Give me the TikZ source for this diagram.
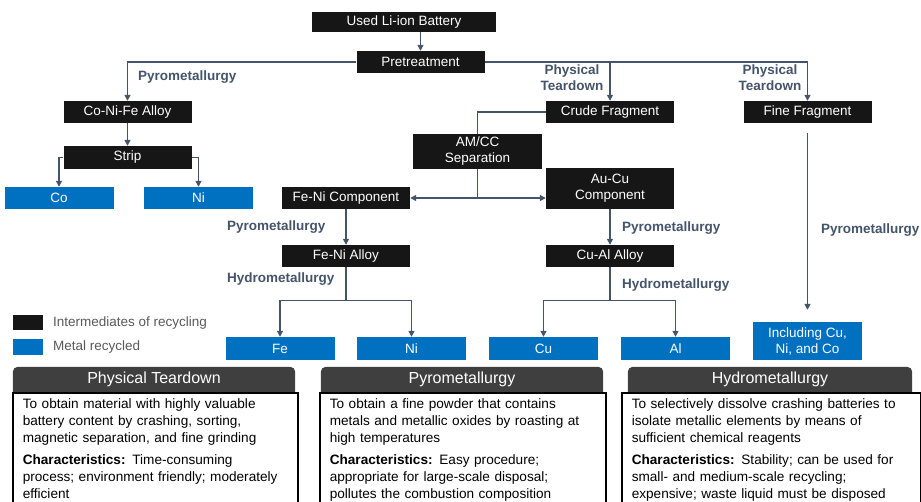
\documentclass[tikz,border=0pt]{standalone}
\usepackage{fontspec}
\setmainfont{Liberation Sans}
\usepackage{xcolor}
\usetikzlibrary{arrows.meta,backgrounds}
\definecolor{inter}{HTML}{161616}
\definecolor{metal}{HTML}{0070C0}
\definecolor{flow}{HTML}{44546A}
\definecolor{head}{HTML}{3F3F3F}
\definecolor{keytext}{HTML}{595959}
\newcommand{\boxfont}{\fontsize{13.5}{16}\selectfont}

\begin{document}
\begin{tikzpicture}[x=1pt,y=-1pt,
    im/.style={fill=inter,text=white,minimum width=128pt,minimum height=22pt,inner sep=0pt,align=center,font=\boxfont},
    mt/.style={fill=metal,text=white,minimum width=109pt,minimum height=23pt,inner sep=0pt,align=center,font=\boxfont},
    lb/.style={text=flow,inner sep=0pt,align=center,font=\boxfont\bfseries},
    fl/.style={draw=flow,line width=1.4pt,-{Triangle[length=6pt,width=6pt]}},
    ln/.style={draw=flow,line width=1.4pt},
    hd/.style={text=white,minimum width=282pt,minimum height=25pt,inner sep=0pt,font=\fontsize{16}{18}\selectfont},
    bd/.style={draw=black,line width=1.6pt,fill=white,anchor=north west,align=left,inner xsep=10pt,inner ysep=6pt,font=\fontsize{13.6}{16.7}\selectfont}
  ]
  \clip (0,0) rectangle (921,501);

  % intermediates
  \node[im,minimum width=184pt,minimum height=20pt] (bat) at (404,22) {Used Li-ion Battery};
  \node[im] (pre) at (420.5,62) {Pretreatment};
  \node[im] (cnf) at (127.5,112) {Co-Ni-Fe Alloy};
  \node[im,minimum height=23pt] (strip) at (127.5,157.5) {Strip};
  \node[im] (crude) at (610,112) {Crude Fragment};
  \node[im] (fine) at (807.5,112) {Fine Fragment};
  \node[im,minimum width=129pt,minimum height=35pt] (amcc) at (477.5,151.5) {AM/CC\\Separation};
  \node[im,minimum height=41pt] (aucu) at (610,188.5) {Au-Cu\\Component};
  \node[im] (feni) at (346,198) {Fe-Ni Component};
  \node[im] (fenia) at (346,256) {Fe-Ni Alloy};
  \node[im] (cual) at (610,256) {Cu-Al Alloy};

  % metals
  \node[mt,minimum height=22pt] (co) at (59,198) {Co};
  \node[mt,minimum height=22pt] (ni1) at (198.5,198) {Ni};
  \node[mt] (fe) at (280,348.5) {Fe};
  \node[mt] (ni2) at (411.5,348.5) {Ni};
  \node[mt] (cu) at (543.5,348.5) {Cu};
  \node[mt] (al) at (675.5,348.5) {Al};
  \node[mt,minimum height=38pt] (incl) at (807.5,341) {Including Cu,\\Ni, and Co};

  % routes
  \draw[fl] (pre|-bat.south) -- (pre.north);
  \draw[fl] (pre.west) -| (cnf.north);
  \draw[fl] (pre.east) -| (crude.north);
  \draw[fl] (pre.east) -| (fine.north);
  \draw[fl] (cnf) -- (strip);
  \draw[fl] (strip.west) -| (co.north);
  \draw[fl] (strip.east) -| (ni1.north);
  \coordinate (sep) at (amcc|-feni);
  \begin{scope}[on background layer]
    \draw[ln] (crude.west) -| (sep);
  \end{scope}
  \draw[fl] (sep) -- (feni.east);
  \draw[fl] (sep) -- (aucu.west|-sep);
  \draw[fl] (feni) -- (fenia);
  \draw[fl] (fenia.south) -- ++(0,33) -| (fe.north);
  \draw[fl] (fenia.south) -- ++(0,33) -| (ni2.north);
  \draw[fl] (aucu) -- (cual);
  \draw[fl] (cual.south) -- ++(0,33) -| (cu.north);
  \draw[fl] (cual.south) -- ++(0,33) -| (al.north);
  \draw[fl,shorten <=10pt,shorten >=12pt] (fine) -- (incl);

  % route labels
  \node[lb,anchor=west] (py1) at (138,77) {Pyrometallurgy};
  \node[lb] (pt1) at (572,78) {Physical\\Teardown};
  \node[lb] (pt2) at (770,78) {Physical\\Teardown};
  \node[lb,anchor=west] (py2) at (227,227) {Pyrometallurgy};
  \node[lb,anchor=west] (hy1) at (227,279) {Hydrometallurgy};
  \node[lb,anchor=west] (py3) at (622,228) {Pyrometallurgy};
  \node[lb,anchor=west] (hy2) at (622,285) {Hydrometallurgy};
  \node[lb,anchor=west] (py4) at (821,230) {Pyrometallurgy};

  % key
  \node[fill=inter,minimum width=30pt,minimum height=15pt,inner sep=0pt] (k1) at (28,322.5) {};
  \node[anchor=west,text=keytext,font=\boxfont,inner sep=0pt] (k1t) at (53,323) {Intermediates of recycling};
  \node[fill=metal,minimum width=30pt,minimum height=16pt,inner sep=0pt] (k2) at (28,347) {};
  \node[anchor=west,text=keytext,font=\boxfont,inner sep=0pt] (k2t) at (53,347) {Metal recycled};

  % method panels
  \node[hd] (h1) at (154,379.5) {Physical Teardown};
  \node[hd] (h2) at (462,379.5) {Pyrometallurgy};
  \node[hd,minimum width=284pt] (h3) at (770,379.5) {Hydrometallurgy};
  \begin{scope}[on background layer]
    \foreach \h in {h1,h2,h3}
      \fill[head,rounded corners=5pt] ([yshift=-8pt]\h.south west) rectangle (\h.north east);
  \end{scope}
  \node[bd,text width=265pt] (b1) at (12,392) {To obtain material with highly valuable\\
    battery content by crashing, sorting,\\
    magnetic separation, and fine grinding\\[6pt]
    \textbf{Characteristics:} Time-consuming\\
    process; environment friendly; moderately\\
    efficient\\[8pt]};
  \node[bd,text width=266pt] (b2) at (319,392) {To obtain a fine powder that contains\\
    metals and metallic oxides by roasting at\\
    high temperatures\\[6pt]
    \textbf{Characteristics:} Easy procedure;\\
    appropriate for large-scale disposal;\\
    pollutes the combustion composition\\[8pt]};
  \node[bd,text width=279pt] (b3) at (621,392) {To selectively dissolve crashing batteries to\\
    isolate metallic elements by means of\\
    sufficient chemical reagents\\[6pt]
    \textbf{Characteristics:} Stability; can be used for\\
    small- and medium-scale recycling;\\
    expensive; waste liquid must be disposed\\[8pt]};
\end{tikzpicture}
\end{document}
